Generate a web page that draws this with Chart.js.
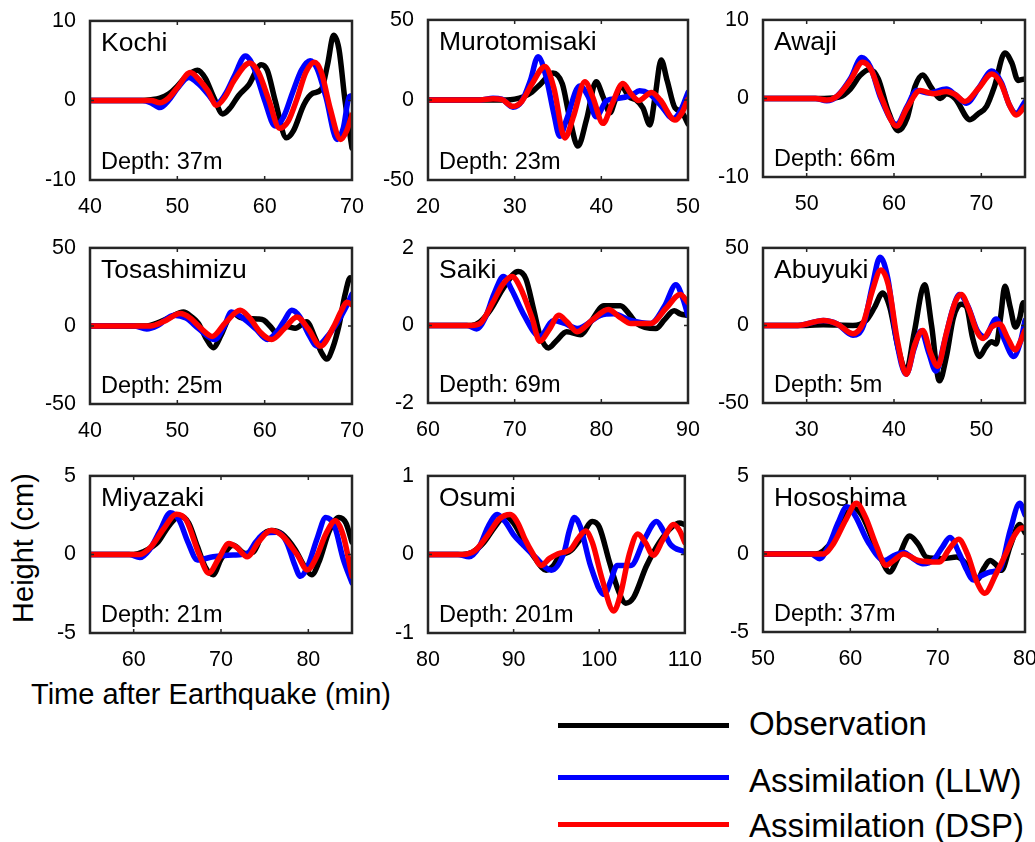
<!DOCTYPE html>
<html>
<head>
<meta charset="utf-8">
<script src="https://cdn.jsdelivr.net/npm/chart.js@4.4.1/dist/chart.umd.min.js"></script>
<style>
  body { margin: 0; background: #fff; }
  #wrap { position: relative; width: 1035px; height: 842px; overflow: hidden; font-family: "Liberation Sans", Arial, sans-serif; color: #000; }
  #wrap canvas { position: absolute; }
  .txt { position: absolute; white-space: nowrap; line-height: 1; }
  .key { position: absolute; left: 558px; width: 171px; height: 5px; }
</style>
</head>
<body>
<div id="wrap">
  <div class="txt" style="left:23px;top:548px;font-size:29px;transform:translate(-50%,-50%) rotate(-90deg);">Height (cm)</div>
  <div class="txt" style="left:211px;top:694px;font-size:29px;transform:translate(-50%,-50%);">Time after Earthquake (min)</div>

  <div class="key" style="top:723px;background:#000;"></div>
  <div class="txt" style="left:749px;top:723px;font-size:33px;transform:translateY(-50%);">Observation</div>
  <div class="key" style="top:775px;background:#0000ff;"></div>
  <div class="txt" style="left:749px;top:780px;font-size:33px;transform:translateY(-50%);">Assimilation (LLW)</div>
  <div class="key" style="top:822px;background:#ff0000;"></div>
  <div class="txt" style="left:749px;top:825px;font-size:33px;transform:translateY(-50%);">Assimilation (DSP)</div>
</div>
<script>
// station labels
const stations = ['Kochi', 'Murotomisaki', 'Awaji', 'Tosashimizu', 'Saiki', 'Abuyuki', 'Miyazaki', 'Osumi', 'Hososhima'];
const depths = ['Depth: 37m', 'Depth: 23m', 'Depth: 66m', 'Depth: 25m', 'Depth: 69m', 'Depth: 5m', 'Depth: 21m', 'Depth: 201m', 'Depth: 37m'];
// axis limits (min)
const timeRanges = [[40, 70], [20, 50], [45, 75], [40, 70], [60, 90], [25, 55], [55, 85], [80, 110], [50, 80]];
// symmetric height limits (cm)
const heightLimits = [10, 50, 10, 50, 2, 50, 5, 1, 5];

// [time (min), height (cm)]
const kochiObs = [[40,0],[46,0],[47,0.1],[48,0.3],[49,0.8],[50,1.8],[51,3.0],[52.3,3.8],[53.2,2.8],[54.2,0.3],[55.2,-1.7],[56,-1],[57,0.6],[58.2,2.0],[59.6,4.5],[60.3,3.8],[61.2,0],[62.5,-4.7],[63.3,-3.8],[64.5,-0.5],[65.5,0.9],[66.5,1.4],[67.2,4.5],[67.9,8.2],[68.5,6.5],[69.2,0],[70,-6]];
const kochiLlw = [[40,0],[46,0],[47,-0.3],[48,-0.9],[49,0],[50,1.5],[51.3,2.9],[52.5,2],[53.5,0.8],[54.5,-0.4],[55.5,0.8],[56.5,3],[57.8,5.6],[58.8,4],[60,0],[61.2,-3.2],[62.2,-2],[63.2,1],[64.2,3.8],[65.2,5.0],[66,4],[67,0.5],[68.3,-4.9],[69,-3.5],[69.7,0.5],[70,0.6]];
const kochiDsp = [[40,0],[47,0],[48,-0.3],[49,0.3],[50,1.6],[51.5,3.5],[52.5,2.6],[53.5,1.2],[54.5,-0.6],[55.5,0.5],[56.5,2.5],[58.3,4.7],[59.3,3.5],[60.5,0],[61.7,-3.5],[62.7,-2.6],[63.7,0.2],[64.7,3.5],[65.7,4.8],[66.5,3.5],[67.5,-1],[68.7,-4.9],[69.4,-3.8],[70,-1.8]];

const muroObs = [[20,0],[29,0],[30,0.5],[31,2],[32,5],[33,10],[34.4,16.8],[35.5,10],[36.3,-10],[37.3,-28.8],[38.3,-12],[39.4,11.4],[40.2,2],[41,-8],[41.6,0],[42.3,8.7],[43.2,2],[44,0],[44.8,-5],[45.6,-15.6],[46.2,2],[46.9,25],[47.6,12],[48.5,-5],[49.2,-7],[50,-15]];
const muroLlw = [[20,0],[26,0],[27.5,1],[28.5,0.5],[29.8,-4.5],[30.8,-1],[31.8,12],[32.7,27],[33.6,15],[34.5,-8],[35.2,-22.7],[36,-12],[37.5,8.7],[38.5,2],[39.4,-10.5],[40.6,-0.4],[42,1],[43.5,3],[44.4,5.7],[45.5,4],[46.8,-3],[48.3,-11.6],[49.2,-6],[50,4.7]];
const muroDsp = [[20,0],[26,0],[27.5,0.8],[28.5,0.3],[29.8,-4],[30.8,-1],[32,10],[33.5,20.9],[34.5,8],[35.8,-23.7],[36.8,-10],[38.1,11.4],[39,2],[40.2,-14.6],[41.2,-3],[42.5,10.3],[43.4,4],[44.3,-0.4],[45.8,4.7],[46.8,0],[48.5,-12.6],[49.3,-8],[50,0.6]];

const awajiObs = [[45,0],[52,0],[53.8,0.2],[55,1.2],[56.1,2.9],[57.2,3.7],[58.2,2.5],[59.3,-1.5],[60.5,-4.1],[61.5,-2.5],[62.4,1.5],[63.3,3.0],[64.2,1.5],[65.3,0],[66,0.6],[67,0],[68.7,-2.7],[69.6,-2],[70.6,-1.0],[71.5,1.5],[72.7,5.8],[73.5,4.5],[74.2,2.3],[75,2.5]];
const awajiLlw = [[45,0],[51,0],[52.3,-0.3],[53.5,0.3],[55,2.5],[56.3,5.2],[57.3,4],[58.5,0],[60.3,-3.3],[61.5,-1],[62.6,1.0],[64,0.7],[66,1.2],[67,0.5],[68.3,-0.6],[69.8,1.5],[71.2,3.5],[72.3,2],[73.2,-0.8],[74,-1.9],[75,-0.4]];
const awajiDsp = [[45,0],[51,0],[52.3,-0.2],[53.5,0.3],[55,2.3],[56.4,4.6],[57.4,3.6],[58.6,0],[60.3,-3.5],[61.5,-1.2],[63,1.0],[64.5,0.6],[66,0.9],[67,0.5],[68.1,-0.4],[69.7,1.3],[71.2,3.1],[72.3,1.8],[73.2,-0.8],[74,-2.1],[75,-1.0]];

const tosaObs = [[40,0],[46.5,0],[47.6,1.7],[49,5],[50.7,8.9],[51.6,6],[52.4,1.7],[53.3,-8],[54.1,-13.9],[55,-6],[55.8,4],[56.4,7.9],[57.2,5.5],[58,4.8],[59.2,4.5],[59.9,3.7],[60.6,0],[61.4,-4.6],[62.5,-0.4],[63.5,-1.5],[64.8,2.7],[65.8,-8],[66.5,-17],[67.1,-21.2],[67.8,-14],[68.5,0],[69.2,20],[69.8,30.8],[70,29.7]];
const tosaLlw = [[40,0],[45,0],[46.5,-1.9],[47.8,0.5],[49.6,6.9],[51,5],[52.5,-2],[54.3,-8.7],[55.3,-1],[56.2,8.9],[57,7],[58,3],[59,-2],[60.3,-8.7],[61.5,-3],[62.3,4],[63.1,10],[64,6],[65,-5],[66,-12.9],[67,-8],[68.3,2],[69.3,12],[70,20.4]];
const tosaDsp = [[40,0],[46.9,0],[48.5,3],[50.3,7.9],[51.5,5],[52.8,-2],[54,-6.7],[55.5,2],[57.2,10],[58.3,5],[59.5,-4],[60.8,-8.7],[62.2,-2],[63.7,5.8],[65,-2],[66.4,-12.9],[67.9,-0.4],[68.8,10],[69.4,15.2],[70,13.5]];

const saikiObs = [[60,0],[65,0],[66,0.09],[67.2,0.4],[68.8,1.0],[70.4,1.39],[71.3,1.2],[72.2,0.4],[72.9,-0.24],[73.9,-0.58],[74.8,-0.4],[76,-0.16],[77.6,-0.24],[78.8,0.1],[80.3,0.51],[82.2,0.51],[83.2,0.3],[84.1,0.05],[86.3,-0.08],[87.3,0.15],[88.4,0.38],[89.1,0.3],[90,0.26]];
const saikiLlw = [[60,0],[64.5,0],[65.6,-0.09],[66.6,0.2],[67.6,0.8],[68.7,1.26],[69.7,0.9],[71,0.3],[72.9,-0.28],[74.5,0.13],[75.8,0.05],[77.2,-0.08],[79.9,0.26],[81.4,0.3],[83.4,0.13],[85.7,0.05],[87.3,0.5],[88.6,1.05],[89.4,0.7],[90,0.26]];
const saikiDsp = [[60,0],[65,0],[66,0.05],[67.5,0.6],[68.6,1.05],[69.7,1.26],[70.6,1.0],[72,0.2],[72.9,-0.41],[74,-0.1],[75.1,0.26],[76,0.1],[77.2,-0.16],[79,0.15],[80.8,0.41],[82.2,0.2],[83.4,0.05],[85.7,0.05],[87.5,0.45],[89.1,0.8],[90,0.59]];

const abuObs = [[25,0],[30,0],[31.9,0.5],[35.3,0],[36.8,3.2],[37.8,12],[38.7,21],[39.5,12],[40.5,-15],[41.4,-29.4],[42.3,-5],[43.5,26.3],[44.3,0],[45.2,-35.7],[46,-20],[46.8,5],[47.7,13.7],[48.3,12],[49,-8],[49.8,-20],[50.5,-14],[51.2,-10.5],[51.7,-12],[52.2,5],[52.7,25.2],[53.3,12],[53.9,-1],[54.4,5],[54.8,14.7],[55,10]];
const abuLlw = [[25,0],[29,0],[31.9,3.2],[33.5,1],[35.3,-6.3],[36.5,0],[37.5,25],[38.4,44],[39.3,30],[40.3,-10],[41.4,-31.5],[42.3,-15],[43.1,-3.5],[44,-18],[44.8,-29.4],[45.8,-10],[46.7,10],[47.5,20],[48.5,12],[49.5,-3],[50.4,-7.4],[51.7,4.2],[52.7,-10],[53.7,-20],[54.5,-10],[55,3.2]];
const abuDsp = [[25,0],[29,0],[31.9,3.2],[33.5,1],[35.3,-5.3],[36.5,2],[37.5,22],[38.5,35.7],[39.4,25],[40.4,-10],[41.4,-31.5],[42.4,-12],[43.3,-3.2],[44.2,-18],[45,-26.3],[46,-5],[47,15],[47.7,20],[48.6,10],[49.5,-4],[50.2,-8.4],[51.2,-1],[52.1,1],[53,-8],[53.9,-15.8],[54.5,-10],[55,-3.2]];

const miyaObs = [[55,0],[60,0],[61.1,0.17],[62.8,0.8],[64,1.8],[65.3,2.45],[66.3,2.0],[67.3,0.5],[68.2,-0.8],[69.1,-1.29],[70,-0.3],[71.4,0.58],[72.8,0.06],[73.7,0.15],[74.7,1.2],[75.8,1.52],[77,1.3],[78.5,0.3],[79.6,-0.8],[80.4,-1.29],[81.2,-0.5],[82.4,1.5],[83.5,2.35],[84.3,2.0],[85,0.79]];
const miyaLlw = [[55,0],[59.5,0],[60.7,-0.2],[61.8,0.3],[63,1.5],[64.2,2.66],[65.2,2.2],[66.2,0.8],[67.3,-0.35],[69.1,-0.15],[71.4,-0.04],[73,0.06],[74,0.8],[74.9,1.31],[76.4,1.41],[77.5,0.8],[78.4,-0.6],[79.1,-1.39],[79.9,-0.8],[81,1.0],[82,2.35],[83,1.8],[84,-0.3],[85,-1.81]];
const miyaDsp = [[55,0],[59.5,0],[60.7,0],[62,0.5],[63.4,1.6],[64.9,2.56],[66,2.2],[67.5,0],[68.6,-1.19],[69.7,-0.3],[70.9,0.69],[71.8,0.45],[73,-0.15],[74.3,0.8],[75.7,1.52],[77,1.2],[78.7,0],[79.9,-0.98],[80.9,-0.2],[82,1.3],[83.1,2.14],[84,1.2],[85,-1.39]];

const osuObs = [[80,0],[84,0],[85.2,0.03],[86.5,0.15],[87.8,0.35],[89,0.49],[90,0.4],[91.3,0.15],[92.5,-0.05],[93.8,-0.2],[94.6,-0.15],[95.3,-0.03],[96.7,0.05],[97.8,0.2],[99.2,0.42],[100,0.35],[101.2,-0.1],[102.2,-0.45],[103.1,-0.62],[104,-0.55],[105.5,-0.15],[107,0.15],[108.5,0.35],[109.4,0.4],[110,0.38]];
const osuLlw = [[80,0],[83.5,0],[84.8,-0.03],[86,0.1],[87,0.35],[88.1,0.51],[89,0.42],[90,0.25],[91.2,0.11],[92.5,-0.03],[94.4,-0.2],[95.9,0.03],[96.5,0.3],[97.1,0.47],[97.8,0.35],[99,-0.15],[100.6,-0.51],[101.3,-0.35],[102.1,-0.14],[103.7,-0.14],[105.3,0.2],[106.7,0.42],[107.5,0.3],[108.3,0.13],[110,0.03]];
const osuDsp = [[80,0],[84,0],[85.5,0.05],[87,0.25],[88.3,0.45],[89.6,0.51],[90.5,0.4],[91.3,0.2],[92.3,0],[93.2,-0.14],[94.2,-0.05],[95.2,0.01],[96.7,0.07],[97.5,0.2],[98.4,0.3],[99.2,0.15],[100.3,-0.3],[101.7,-0.72],[102.5,-0.5],[103.5,0],[104.5,0.26],[105.4,0.15],[106.3,-0.01],[107.5,0.2],[108.7,0.38],[109.4,0.3],[110,0.15]];

const hosoObs = [[50,0],[56,0],[56.9,0.2],[58,0.9],[59.2,2.2],[60.3,2.93],[61.3,2.5],[62.5,1],[63.5,-0.3],[64.5,-1.15],[65.5,-0.2],[66.8,1.15],[67.8,0.6],[68.7,-0.2],[70.6,-0.3],[72.2,-0.2],[73.5,-0.8],[74.5,-1.67],[75.3,-0.9],[76,-0.42],[76.7,-0.7],[77.3,-1.05],[78.3,0.5],[79.4,1.88],[80,1.36]];
const hosoLlw = [[50,0],[55.5,0],[56.5,-0.3],[57.5,0.5],[58.6,2],[59.6,3.03],[60.5,2.5],[62,0.8],[63.9,-0.42],[65,-0.1],[66.1,0.1],[67.2,-0.3],[68.3,-0.63],[69.5,-0.4],[70.5,0.4],[71.4,1.05],[72.5,0],[73.3,-1],[74.1,-1.67],[75,-1.4],[76,-1.15],[77.1,-1.0],[78.3,1.5],[79.4,3.24],[80,2.51]];
const hosoDsp = [[50,0],[56,0],[56.9,0],[58,0.6],[59.5,2.2],[60.7,3.24],[61.7,2.4],[63,0.5],[64.1,-0.73],[65,-0.4],[66.1,0],[67.8,-0.42],[70.2,-0.52],[71.3,0.3],[72.4,0.94],[73.4,0],[74.5,-1.8],[75.4,-2.51],[76.7,-1.26],[77.8,0],[78.8,1.2],[79.6,1.67],[80,1.67]];

const obsSeries = [kochiObs, muroObs, awajiObs, tosaObs, saikiObs, abuObs, miyaObs, osuObs, hosoObs];
const llwSeries = [kochiLlw, muroLlw, awajiLlw, tosaLlw, saikiLlw, abuLlw, miyaLlw, osuLlw, hosoLlw];
const dspSeries = [kochiDsp, muroDsp, awajiDsp, tosaDsp, saikiDsp, abuDsp, miyaDsp, osuDsp, hosoDsp];

// plot boxes on the page: left, top, right, bottom
const boxes = [
  [90, 17, 352, 180], [428, 16, 688, 180], [763, 16, 1025, 177],
  [90, 244, 352, 404], [428, 244, 688, 403], [763, 244, 1025, 403],
  [90, 472, 352, 633], [428, 472, 688, 633], [763, 472, 1025, 632]
];
const PAD_L = 70, PAD_T = 15, PAD_R = 20, PAD_B = 42;
const FONT = '"Liberation Sans", Arial, sans-serif';

const boxPlugin = {
  id: 'box',
  beforeDatasetsDraw(chart, args, opts) {
    const { ctx, chartArea: a } = chart;
    ctx.save();
    ctx.fillStyle = '#000';
    ctx.textBaseline = 'alphabetic';
    ctx.font = '26.5px ' + FONT;
    ctx.fillText(opts.name, a.left + 11, a.top + 30);
    ctx.font = '23.5px ' + FONT;
    ctx.fillText(opts.depth, a.left + 11, a.bottom - 11);
    ctx.restore();
  },
  afterDraw(chart) {
    const { ctx, chartArea: a, scales: { x, y } } = chart;
    ctx.save();
    ctx.strokeStyle = '#262626';
    ctx.lineWidth = 2.5;
    ctx.strokeRect(a.left, a.top, a.right - a.left, a.bottom - a.top);
    ctx.lineWidth = 1.5;
    ctx.beginPath();
    x.ticks.forEach(t => {
      const px = x.getPixelForValue(t.value);
      ctx.moveTo(px, a.bottom); ctx.lineTo(px, a.bottom - 4);
      ctx.moveTo(px, a.top); ctx.lineTo(px, a.top + 4);
    });
    y.ticks.forEach(t => {
      const py = y.getPixelForValue(t.value);
      ctx.moveTo(a.left, py); ctx.lineTo(a.left + 4, py);
      ctx.moveTo(a.right, py); ctx.lineTo(a.right - 4, py);
    });
    ctx.stroke();
    ctx.restore();
  }
};

const wrap = document.getElementById('wrap');
const toPts = arr => arr.map(([t, h]) => ({ x: t, y: h }));

// ticks every 10 min, only on round values
function decadeTicks(s) {
  const out = [];
  for (let v = Math.ceil(s.min / 10) * 10; v <= s.max; v += 10) out.push({ value: v });
  s.ticks = out;
}

stations.forEach((name, i) => {
  const [L, T, R, B] = boxes[i];
  const w = R - L + PAD_L + PAD_R, h = B - T + PAD_T + PAD_B;
  const cv = document.createElement('canvas');
  cv.width = w; cv.height = h;
  cv.style.left = (L - PAD_L) + 'px';
  cv.style.top = (T - PAD_T) + 'px';
  cv.style.width = w + 'px'; cv.style.height = h + 'px';
  wrap.appendChild(cv);

  const lim = heightLimits[i];
  new Chart(cv, {
    type: 'line',
    data: {
      datasets: [
        { label: 'Observation', data: toPts(obsSeries[i]), borderColor: '#000000', order: 2 },
        { label: 'Assimilation (LLW)', data: toPts(llwSeries[i]), borderColor: '#0000ff', order: 1 },
        { label: 'Assimilation (DSP)', data: toPts(dspSeries[i]), borderColor: '#ff0000', order: 0 }
      ]
    },
    options: {
      responsive: false,
      animation: false,
      layout: { padding: { top: PAD_T, right: PAD_R, left: 0, bottom: 0 } },
      elements: {
        point: { radius: 0 },
        line: { borderWidth: 5.5, cubicInterpolationMode: 'monotone', borderCapStyle: 'round', borderJoinStyle: 'round', fill: false }
      },
      plugins: {
        legend: { display: false },
        tooltip: { enabled: false },
        box: { name: name, depth: depths[i] }
      },
      scales: {
        x: {
          type: 'linear',
          min: timeRanges[i][0], max: timeRanges[i][1],
          ticks: { color: '#000', font: { size: 21.5, family: FONT }, padding: 6, maxRotation: 0 },
          grid: { display: false },
          border: { display: false },
          afterBuildTicks: decadeTicks,
          afterFit: s => { s.height = PAD_B; }
        },
        y: {
          min: -lim, max: lim,
          ticks: { stepSize: lim, color: '#000', font: { size: 21.5, family: FONT }, padding: 6 },
          grid: { display: false },
          border: { display: false },
          afterFit: s => { s.width = PAD_L; }
        }
      }
    },
    plugins: [boxPlugin]
  });
});
</script>
</body>
</html>
